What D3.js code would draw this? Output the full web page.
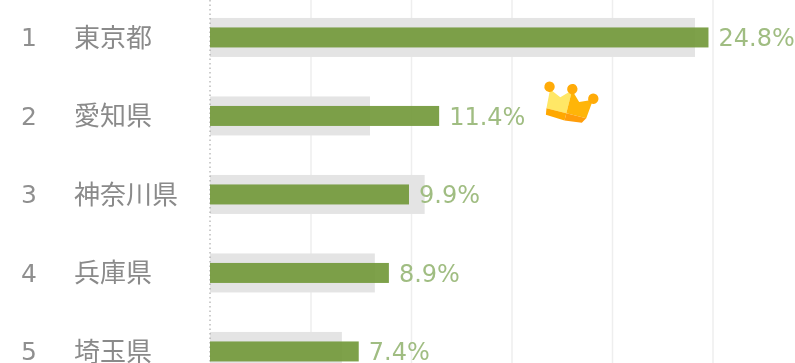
<!DOCTYPE html>
<html>
<head>
<meta charset="utf-8">
<script src="https://cdn.jsdelivr.net/npm/d3@7"></script>
<style>
  html, body { margin: 0; padding: 0; background: #fff; overflow: hidden; }
  #chart { width: 795px; height: 363px; filter: blur(0.6px); }
  .grid line { stroke: #eeeeee; stroke-width: 1.5; }
  .grid path { display: none; }
</style>
</head>
<body>
<div id="chart"></div>
<script>
// data
const ranks = [1, 2, 3, 4, 5];
const prefectures = ["東京都", "愛知県", "神奈川県", "兵庫県", "埼玉県"];
const shares = [24.8, 11.4, 9.9, 8.9, 7.4];
const reference = [24.13, 7.96, 10.68, 8.2, 6.56];
const gridTicks = [5, 10, 15, 20, 25];

const width = 795;
const height = 363;
const margin = { left: 210, right: 0 };

const svg = d3.select("#chart").append("svg")
  .attr("width", width)
  .attr("height", height);

// scales
const xScale = d3.scaleLinear().domain([0, 25]).range([margin.left, margin.left + 502.5]);
const yScale = d3.scaleBand().domain(ranks).range([-1.8, 390.7]).paddingInner(0).paddingOuter(0);
const rowY = (i) => yScale(ranks[i]) + yScale.bandwidth() / 2;

// gridlines
const xAxis = d3.axisBottom(xScale).tickValues(gridTicks).tickSize(height).tickFormat("");
svg.append("g").attr("class", "grid").call(xAxis);

// reference bars (grey)
svg.selectAll(".ref")
  .data(reference)
  .enter()
  .append("rect")
  .attr("class", "ref")
  .attr("x", xScale(0))
  .attr("y", (d, i) => rowY(i) - 19.5)
  .attr("width", (d) => xScale(d) - xScale(0))
  .attr("height", 39)
  .attr("fill", "#e4e4e4");

// zero line, dotted
svg.append("line")
  .attr("x1", xScale(0)).attr("x2", xScale(0))
  .attr("y1", 0).attr("y2", height)
  .attr("stroke", "#9a9a9a")
  .attr("stroke-dasharray", "1.5 3");

// value bars
svg.selectAll(".bar")
  .data(shares)
  .enter()
  .append("rect")
  .attr("class", "bar")
  .attr("x", xScale(0))
  .attr("y", (d, i) => rowY(i) - 10)
  .attr("width", (d) => xScale(d) - xScale(0))
  .attr("height", 20)
  .attr("fill", "#749a3c")
  .attr("opacity", 0.93);

// value labels
svg.selectAll(".value")
  .data(shares)
  .enter()
  .append("text")
  .attr("class", "value")
  .attr("x", (d) => xScale(d) + 10)
  .attr("y", (d, i) => rowY(i))
  .attr("dy", "0.36em")
  .attr("font-family", "'DejaVu Sans', sans-serif")
  .attr("font-size", 24)
  .attr("fill", "#a0bd82")
  .text((d) => d.toFixed(1) + "%");

// rank column
svg.selectAll(".rank")
  .data(ranks)
  .enter()
  .append("text")
  .attr("class", "rank")
  .attr("x", 29)
  .attr("y", (d, i) => rowY(i))
  .attr("dy", "0.36em")
  .attr("text-anchor", "middle")
  .attr("font-family", "'DejaVu Sans', sans-serif")
  .attr("font-size", 25)
  .attr("fill", "#8f8f8f")
  .text((d) => d);

// prefecture column
svg.selectAll(".name")
  .data(prefectures)
  .enter()
  .append("text")
  .attr("class", "name")
  .attr("x", 74)
  .attr("y", (d, i) => rowY(i))
  .attr("dy", "0.36em")
  .attr("font-family", "'Noto Sans CJK JP', sans-serif")
  .attr("font-size", 26)
  .attr("fill", "#8a8a8a")
  .text((d) => d);

// crown icon beside the 2nd row, tilted
const crown = svg.append("g").attr("transform", "translate(570,103) rotate(14) scale(1.08)");
crown.append("path").attr("d", "M-21,-8 L-10,-3 L-1,-12 L-1,10 L-20,10 Z").attr("fill", "#ffe766");
crown.append("path").attr("d", "M-1,-12 L8,-3 L20,-8 L18,10 L-1,10 Z").attr("fill", "#ffb508");
crown.append("path").attr("d", "M-20,10 L-1,10 L-1,17 L-19,16 Z").attr("fill", "#ffa800");
crown.append("path").attr("d", "M-1,10 L18,10 L15,15 L-1,17 Z").attr("fill", "#ff9d0a");
crown.selectAll("circle")
  .data([[-22, -10], [-1, -13], [20, -9]])
  .enter()
  .append("circle")
  .attr("cx", (d) => d[0])
  .attr("cy", (d) => d[1])
  .attr("r", 4.8)
  .attr("fill", "#ffab08");
</script>
</body>
</html>
